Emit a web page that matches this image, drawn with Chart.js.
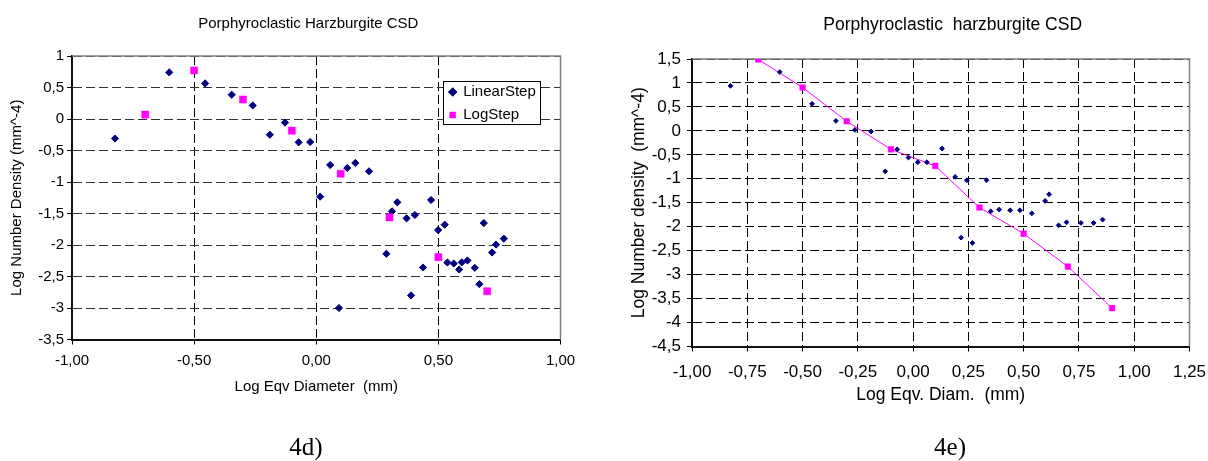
<!DOCTYPE html>
<html><head><meta charset="utf-8">
<script src="https://cdn.jsdelivr.net/npm/chart.js@4.4.1/dist/chart.umd.min.js"></script>
<style>
html,body{margin:0;padding:0;background:#fff;width:1208px;height:461px;overflow:hidden;}
.wrap{position:absolute;top:0;height:461px;overflow:hidden;}
.cap{position:absolute;font-family:'Liberation Serif','Times New Roman',serif;font-size:25px;color:#000;transform:translate(-50%,-50%);white-space:nowrap;}
</style></head><body>
<div class="wrap" style="left:0;width:617px"><canvas id="c1" width="617" height="461" style="width:617px;height:461px"></canvas></div>
<div class="wrap" style="left:600px;width:608px"><canvas id="c2" width="705" height="461" style="width:705px;height:461px"></canvas></div>
<div class="cap" id="cap1" style="left:306px;top:447px"></div>
<div class="cap" id="cap2" style="left:950px;top:447px"></div>
<script>
const FONT = "'Liberation Sans', Arial, sans-serif";

// ---------- Left chart (4d) ----------
const leftCaption = '4d)';
const leftTitle = 'Porphyroclastic Harzburgite CSD';
const leftXTitle = 'Log Eqv Diameter  (mm)';
const leftYTitle = 'Log Number Density (mm^-4)';
const leftXTicks = [-1, -0.5, 0, 0.5, 1];
const leftXTickLabels = ['-1,00', '-0,50', '0,00', '0,50', '1,00'];
const leftYTicks = [-3.5, -3, -2.5, -2, -1.5, -1, -0.5, 0, 0.5, 1];
const leftYTickLabels = ['-3,5', '-3', '-2,5', '-2', '-1,5', '-1', '-0,5', '0', '0,5', '1'];
const leftSeriesNames = ['LinearStep', 'LogStep'];
const leftLinearX = [-0.824, -0.602, -0.455, -0.346, -0.260, -0.190, -0.128, -0.072, -0.025, 0.016, 0.057, 0.093, 0.127, 0.160, 0.216, 0.287, 0.310, 0.332, 0.370, 0.388, 0.404, 0.437, 0.470, 0.499, 0.526, 0.537, 0.563, 0.585, 0.596, 0.619, 0.649, 0.668, 0.686, 0.720, 0.736, 0.768];
const leftLinearY = [-0.31, 0.74, 0.565, 0.385, 0.215, -0.25, -0.058, -0.37, -0.365, -1.233, -0.73, -3.0, -0.778, -0.698, -0.83, -2.14, -1.466, -1.323, -1.577, -2.80, -1.524, -2.357, -1.286, -1.763, -1.678, -2.278, -2.294, -2.389, -2.275, -2.246, -2.362, -2.622, -1.652, -2.119, -1.993, -1.90];
const leftLogX = [-0.70, -0.50, -0.30, -0.10, 0.10, 0.30, 0.50, 0.70];
const leftLogY = [0.07, 0.77, 0.31, -0.185, -0.868, -1.562, -2.193, -2.733];

// ---------- Right chart (4e) ----------
const rightCaption = '4e)';
const rightTitle = 'Porphyroclastic  harzburgite CSD';
const rightXTitle = 'Log Eqv. Diam.  (mm)';
const rightYTitle = 'Log Number density  (mm^-4)';
const rightXTicks = [-1, -0.75, -0.5, -0.25, 0, 0.25, 0.5, 0.75, 1, 1.25];
const rightXTickLabels = ['-1,00', '-0,75', '-0,50', '-0,25', '0,00', '0,25', '0,50', '0,75', '1,00', '1,25'];
const rightYTicks = [-4.5, -4, -3.5, -3, -2.5, -2, -1.5, -1, -0.5, 0, 0.5, 1, 1.5];
const rightYTickLabels = ['-4,5', '-4', '-3,5', '-3', '-2,5', '-2', '-1,5', '-1', '-0,5', '0', '0,5', '1', '1,5'];
const rightLinearX = [-0.826, -0.603, -0.457, -0.349, -0.263, -0.190, -0.126, -0.072, -0.021, 0.021, 0.062, 0.131, 0.190, 0.217, 0.243, 0.268, 0.332, 0.351, 0.389, 0.439, 0.483, 0.537, 0.597, 0.615, 0.658, 0.694, 0.759, 0.816, 0.857];
const rightLinearY = [0.94, 1.228, 0.564, 0.208, 0.02, -0.014, -0.845, -0.385, -0.557, -0.655, -0.655, -0.369, -0.961, -2.228, -1.031, -2.34, -1.031, -1.678, -1.643, -1.657, -1.657, -1.72, -1.462, -1.323, -1.971, -1.908, -1.922, -1.922, -1.852];
const rightLogX = [-0.7, -0.5, -0.3, -0.1, 0.1, 0.3, 0.5, 0.7, 0.9];
const rightLogY = [1.49, 0.906, 0.2, -0.385, -0.731, -1.60, -2.145, -2.833, -3.70];

document.getElementById('cap1').textContent = leftCaption;
document.getElementById('cap2').textContent = rightCaption;

const pts = (xs, ys) => xs.map((x, i) => ({x: x, y: ys[i]}));

const framePlugin = {
  id: 'frame',
  afterLayout(chart, args, opts) {
    const tb = chart.titleBlock;
    if (tb && opts.titleX != null) {
      const w = tb.right - tb.left;
      tb.left = opts.titleX - w / 2;
      tb.right = opts.titleX + w / 2;
    }
  },
  beforeDatasetsDraw(chart, args, opts) {
    const {ctx, chartArea: a} = chart;
    ctx.save();
    ctx.strokeStyle = opts.color || '#808080';
    ctx.lineWidth = opts.width || 1.5;
    ctx.setLineDash([]);
    ctx.beginPath();
    ctx.moveTo(a.left, a.top);
    ctx.lineTo(a.right, a.top);
    ctx.lineTo(a.right, a.bottom);
    ctx.stroke();
    ctx.restore();
  }
};

const legendBoxPlugin = {
  id: 'legendBox',
  afterLayout(chart, args, opts) {
    const lg = chart.legend;
    if (!lg || !opts || !opts.frame) return;
    lg.left = opts.left; lg.top = opts.top;
    lg.right = opts.left + 110; lg.bottom = opts.top + 56;
    lg.width = 110; lg.height = 56;
    if (!lg._boxWrapped) {
      const orig = lg.draw;
      const f = opts.frame;
      lg.draw = function () {
        const ctx = this.ctx;
        ctx.save();
        ctx.setLineDash([]);
        ctx.fillStyle = '#ffffff';
        ctx.fillRect(f.x, f.y, f.w, f.h);
        ctx.strokeStyle = '#000000';
        ctx.lineWidth = 1;
        ctx.strokeRect(f.x + 0.5, f.y + 0.5, f.w, f.h);
        ctx.restore();
        return orig.apply(this, arguments);
      };
      lg._boxWrapped = true;
    }
  }
};

function axis(o) {
  return {
    type: 'linear',
    min: o.vals[0],
    max: o.vals[o.vals.length - 1],
    afterBuildTicks: (s) => { s.ticks = o.vals.map(v => ({value: v})); },
    afterFit: (s) => { if (o.width) s.width = o.width; if (o.height) s.height = o.height; },
    ticks: {
      callback: (v) => { const i = o.vals.indexOf(v); return i >= 0 ? o.labels[i] : ''; },
      font: {size: o.tickSize, family: FONT},
      color: '#000',
      padding: o.tickPad,
      autoSkip: false,
      maxRotation: 0
    },
    grid: { color: o.gridColor || '#000', lineWidth: 1, drawTicks: true, tickLength: 5, tickColor: '#000', tickWidth: 1 },
    border: { display: true, color: '#111', width: 2, dash: [9, 4] },
    title: { display: true, text: o.title, font: {size: o.titleSize, family: FONT}, color: '#000', padding: o.titlePad }
  };
}

// Left chart
new Chart(document.getElementById('c1'), {
  type: 'scatter',
  data: {
    datasets: [
      { label: leftSeriesNames[0], data: pts(leftLinearX, leftLinearY), pointStyle: 'rectRot', pointRadius: 3.6,
        backgroundColor: '#000080', borderColor: '#000080', borderWidth: 1, order: 1 },
      { label: leftSeriesNames[1], data: pts(leftLogX, leftLogY), pointStyle: 'rect', pointRadius: 5,
        backgroundColor: '#FF00FF', borderColor: '#FF00FF', borderWidth: 0.5, order: 0 }
    ]
  },
  options: {
    responsive: false, animation: false, events: [],
    layout: { padding: { left: 0, right: 617 - 560.5, top: 0, bottom: 51.5 } },
    scales: {
      x: axis({vals: leftXTicks, labels: leftXTickLabels, title: leftXTitle, tickSize: 15, titleSize: 15,
               tickPad: 7.5, titlePad: {top: 0, bottom: 13.8}, height: 70}),
      y: axis({vals: leftYTicks, labels: leftYTickLabels, title: leftYTitle, tickSize: 15, titleSize: 15,
               tickPad: 3, titlePad: {top: 8, bottom: 0}, width: 72, gridColor: '#333'})
    },
    plugins: {
      title: { display: true, text: leftTitle, font: {size: 15, family: FONT, weight: 'normal'}, color: '#000',
               padding: {top: 14.5, bottom: 23.5} },
      legend: { display: true, position: 'chartArea', align: 'start',
        labels: { usePointStyle: true, boxWidth: 6, boxHeight: 6, padding: 8, color: '#000',
                  font: {size: 15, family: FONT}, sort: (a, b) => a.datasetIndex - b.datasetIndex } },
      tooltip: { enabled: false },
      frame: { color: '#808080', width: 1.5, titleX: 308.3 },
      legendBox: { left: 441.7, top: 76.5, frame: {x: 443, y: 81, w: 97, h: 43} }
    }
  },
  plugins: [framePlugin, legendBoxPlugin]
});

// Right chart
new Chart(document.getElementById('c2'), {
  type: 'scatter',
  data: {
    datasets: [
      { label: 'LinearStep', data: pts(rightLinearX, rightLinearY), pointStyle: 'rectRot', pointRadius: 2.4,
        backgroundColor: '#000080', borderColor: '#000080', borderWidth: 1, order: 0 },
      { label: 'LogStep', data: pts(rightLogX, rightLogY), pointStyle: 'rect', pointRadius: 4, showLine: true,
        backgroundColor: '#FF00FF', borderColor: '#FF00FF', borderWidth: 1, pointBorderWidth: 0.5, tension: 0, order: 1 }
    ]
  },
  options: {
    responsive: false, animation: false, events: [],
    layout: { padding: { left: 0, right: 115.5, top: 0, bottom: 44.5 } },
    scales: {
      x: axis({vals: rightXTicks, labels: rightXTickLabels, title: rightXTitle, tickSize: 17, titleSize: 17.5,
               tickPad: 11, titlePad: {top: 0, bottom: 11}, height: 70}),
      y: axis({vals: rightYTicks, labels: rightYTickLabels, title: rightYTitle, tickSize: 17, titleSize: 17.5,
               tickPad: 6, titlePad: {top: 28.5, bottom: 0}, width: 92})
    },
    plugins: {
      title: { display: true, text: rightTitle, font: {size: 17.5, family: FONT, weight: 'normal'}, color: '#000',
               padding: {top: 14.5, bottom: 23.5} },
      legend: { display: false },
      tooltip: { enabled: false },
      frame: { color: '#808080', width: 1.5, titleX: 352.7 }
    }
  },
  plugins: [framePlugin]
});
</script>
</body></html>
